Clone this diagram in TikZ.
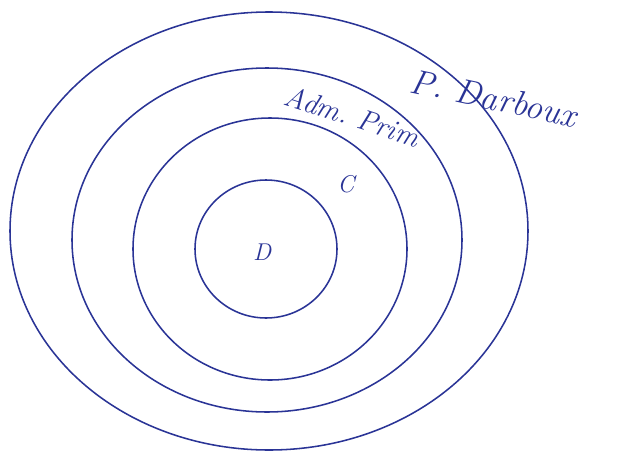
\documentclass[tikz,border=0pt]{standalone}
\definecolor{tinta}{RGB}{42,52,150}
\tikzset{anillo/.style={draw=tinta, line width=1.1pt},
         rotulo/.style={text=tinta, font=\itshape\LARGE}}

\begin{document}
\begin{tikzpicture}[x=0.025cm, y=-0.025cm]
  \useasboundingbox (0,0) rectangle (619,455);
  % anillos, de dentro hacia fuera
  \foreach \px/\py/\rx/\ry in {266/249/71/69, 270/249/137/131,
                               267/240/195/172, 269/231/259/219}
    \draw[anillo] (\px,\py) ellipse [x radius=\rx, y radius=\ry];
  \node[rotulo] (lD) at (262,252) {D};
  \node[rotulo] (lC) at (346,184) {C};
  \node[rotulo, font=\itshape\huge, rotate=-18] (lAdm) at (352,116) {Adm.\ Prim};
  \node[rotulo, font=\itshape\Huge, rotate=-12] (lPD) at (494,98) {P.\ Darboux};
\end{tikzpicture}
\end{document}
